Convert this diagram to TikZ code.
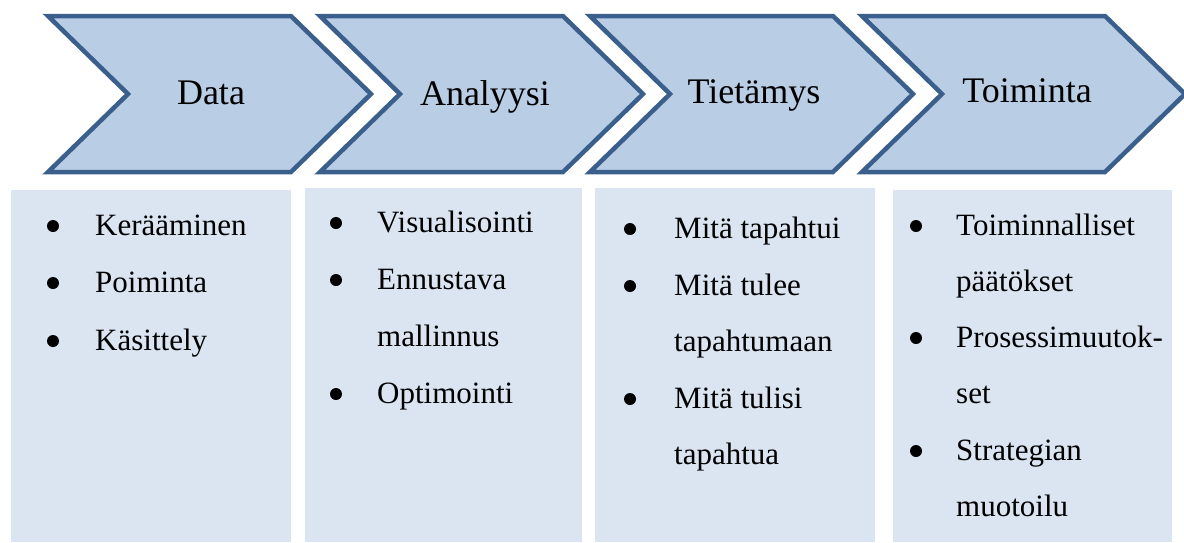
\documentclass[tikz,border=0pt]{standalone}
\usepackage{fontspec}
\setmainfont{Liberation Serif}
\definecolor{chevfill}{HTML}{B9CDE5}
\definecolor{chevline}{HTML}{3A5F8C}
\definecolor{boxfill}{HTML}{DBE5F1}
\begin{document}
\begin{tikzpicture}[x=1pt,y=-1pt,
  chev/.style={fill=chevfill,draw=chevline,line width=4.5pt,line join=miter},
  lbl/.style={font=\fontsize{36}{40}\selectfont,anchor=base,inner sep=0pt},
  item/.style={font=\fontsize{31}{36}\selectfont,anchor=base west,inner sep=0pt},
  bul/.style={circle,fill=black,draw=none,inner sep=0pt,minimum size=12pt},
  listbox/.style={fill=boxfill,draw=none,inner sep=0pt,anchor=north west}]
\useasboundingbox (0,0) rectangle (1184,542);
% chevrons
\foreach \x in {48,320,590,862}{
  \draw[chev] (\x,16) -- (\x+243,16) -- (\x+323,94) -- (\x+243,172) -- (\x,172) -- (\x+80,94) -- cycle;
}
\node[lbl] (t1) at (211,104) {Data};
\node[lbl] (t2) at (485,105) {Analyysi};
\node[lbl] (t3) at (754,103) {Tietämys};
\node[lbl] (t4) at (1027,102) {Toiminta};
% boxes
\node[listbox,minimum width=280pt,minimum height=352pt] (b1) at (11,190) {};
\node[listbox,minimum width=277pt,minimum height=354pt] (b2) at (305,188) {};
\node[listbox,minimum width=280pt,minimum height=354pt] (b3) at (595,188) {};
\node[listbox,minimum width=279pt,minimum height=352pt] (b4) at (893,190) {};
% box 1
\node[bul] (b1p1) at (53,226) {};
\node[item] (b1i1) at (95,235) {Kerääminen};
\node[bul] (b1p2) at (53,283) {};
\node[item] (b1i2) at (95,292) {Poiminta};
\node[bul] (b1p3) at (53,341) {};
\node[item] (b1i3) at (95,350) {Käsittely};
% box 2
\node[bul] (b2p1) at (336,223) {};
\node[item] (b2i1) at (377,232) {Visualisointi};
\node[bul] (b2p2) at (336,280) {};
\node[item] (b2i2) at (377,289) {Ennustava};
\node[item] (b2i3) at (377,346) {mallinnus};
\node[bul] (b2p3) at (336,394) {};
\node[item] (b2i4) at (377,403) {Optimointi};
% box 3
\node[bul] (b3p1) at (630,229) {};
\node[item] (b3i1) at (674,238) {Mitä tapahtui};
\node[bul] (b3p2) at (630,286) {};
\node[item] (b3i2) at (674,295) {Mitä tulee};
\node[item] (b3i3) at (674,351) {tapahtumaan};
\node[bul] (b3p3) at (630,399) {};
\node[item] (b3i4) at (674,408) {Mitä tulisi};
\node[item] (b3i5) at (674,464) {tapahtua};
% box 4
\node[bul] (b4p1) at (916,226) {};
\node[item] (b4i1) at (956,235) {Toiminnalliset};
\node[item] (b4i2) at (956,291) {päätökset};
\node[bul] (b4p2) at (916,338) {};
\node[item] (b4i3) at (956,347) {Prosessimuutok-};
\node[item] (b4i4) at (956,403) {set};
\node[bul] (b4p3) at (916,451) {};
\node[item] (b4i5) at (956,460) {Strategian};
\node[item] (b4i6) at (956,516) {muotoilu};
\end{tikzpicture}
\end{document}
